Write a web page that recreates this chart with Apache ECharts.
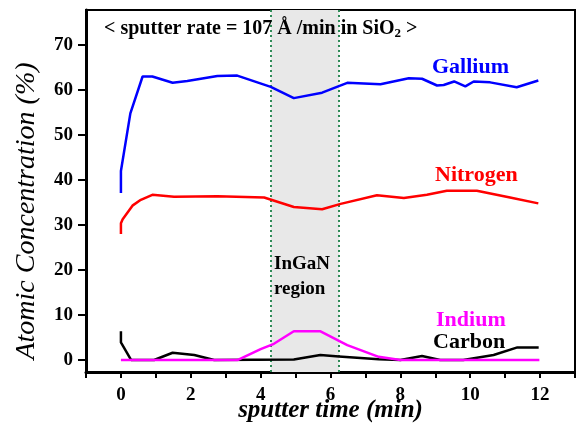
<!DOCTYPE html>
<html>
<head>
<meta charset="UTF-8">
<title>Atomic Concentration</title>
<script src="https://cdn.jsdelivr.net/npm/echarts@6/dist/echarts.min.js"></script>
<style>
  html, body { margin: 0; padding: 0; background: #fff; }
  #chart { width: 576px; height: 425px; }
</style>
</head>
<body>
<div id="chart"></div>
<script>
// depth profile
var galliumT = [0, 0, 0.27, 0.62, 0.9, 1.48, 1.9, 2.76, 3.33, 4.29, 4.95, 5.76, 6.48, 7.43, 8.24, 8.62, 9.05, 9.24, 9.54, 9.86, 10.1, 10.57, 11.33, 11.95];
var galliumV = [37.1, 42, 54.8, 63, 63, 61.6, 62, 63.1, 63.2, 60.7, 58.2, 59.4, 61.6, 61.3, 62.6, 62.5, 61.0, 61.1, 61.9, 60.8, 61.9, 61.7, 60.6, 62.1];

var nitrogenT = [0, 0, 0.05, 0.33, 0.57, 0.9, 1.52, 2.76, 4.1, 4.95, 5.76, 6.29, 7.33, 8.1, 8.76, 9.33, 10.19, 11.14, 11.95];
var nitrogenV = [28, 30.4, 31.3, 34.3, 35.6, 36.7, 36.3, 36.4, 36.1, 34.0, 33.5, 34.7, 36.6, 36.0, 36.7, 37.6, 37.6, 36.1, 34.8];

var indiumT = [0, 3.35, 4.0, 4.38, 4.95, 5.7, 6.48, 7.38, 8.0, 11.98];
var indiumV = [0, 0, 2.4, 3.6, 6.4, 6.4, 3.3, 0.7, 0, 0];

var carbonT = [0, 0, 0.29, 0.95, 1.48, 2.1, 2.67, 4.95, 5.71, 6.24, 7.38, 8.0, 8.62, 9.14, 9.8, 10.67, 11.35, 11.96];
var carbonV = [6.4, 3.9, 0, 0, 1.6, 1.1, 0, 0.1, 1.1, 0.8, 0.15, 0, 0.9, 0, 0, 1.1, 2.8, 2.8];

var xTicks = [-1, 0, 1, 2, 3, 4, 5, 6, 7, 8, 9, 10, 11, 12, 13];
var xLabels = [0, 2, 4, 6, 8, 10, 12];
var yTicks = [0, 10, 20, 30, 40, 50, 60, 70];
var regionBounds = [4.29, 6.25];

function pairs(t, v) {
  var out = [];
  for (var i = 0; i < t.length; i++) out.push([t[i], v[i]]);
  return out;
}

var serif = 'Liberation Serif';
var chart = echarts.init(document.getElementById('chart'));

function lineSeries(name, t, v, color) {
  return {
    name: name,
    type: 'line',
    data: pairs(t, v),
    symbol: 'none',
    smooth: false,
    lineStyle: { color: color, width: 2.5 },
    z: 5
  };
}

var option = {
  backgroundColor: '#fff',
  animation: false,
  grid: {
    left: 86, top: 10, right: 1, bottom: 53,
    outerBoundsMode: 'none',
    containLabel: false,
    show: true, borderColor: '#000', borderWidth: 2, backgroundColor: 'transparent'
  },
  xAxis: {
    type: 'value',
    min: -1, max: 13,
    name: 'sputter time (min)',
    nameLocation: 'middle',
    nameGap: 26,
    nameMoveOverlap: false,
    nameTextStyle: { fontFamily: serif, fontStyle: 'italic', fontWeight: 'bold', fontSize: 25, color: '#000' },
    axisLine: { show: true, onZero: false, lineStyle: { color: '#000', width: 3 } },
    axisTick: { show: true, inside: false, length: 6, customValues: xTicks, lineStyle: { color: '#000', width: 2 } },
    axisLabel: { customValues: xLabels, margin: 14, fontFamily: serif, fontWeight: 'bold', fontSize: 19, color: '#000' },
    splitLine: { show: false }
  },
  yAxis: {
    type: 'value',
    min: -2.67, max: 77.78,
    axisLine: { show: true, onZero: false, lineStyle: { color: '#000', width: 3 } },
    axisTick: { show: true, inside: false, length: 8, customValues: yTicks, lineStyle: { color: '#000', width: 2 } },
    axisLabel: { customValues: yTicks, margin: 13, fontFamily: serif, fontWeight: 'bold', fontSize: 19, color: '#000' },
    splitLine: { show: false }
  },
  series: [
    {
      type: 'line',
      data: [],
      silent: true,
      markArea: {
        silent: true,
        itemStyle: { color: '#e8e8e8' },
        data: [[{ xAxis: regionBounds[0] }, { xAxis: regionBounds[1] }]]
      },
      markLine: {
        silent: true,
        symbol: 'none',
        label: { show: false },
        lineStyle: { color: '#2e8b57', type: [2, 3], width: 2 },
        data: [{ xAxis: regionBounds[0] }, { xAxis: regionBounds[1] }]
      },
      z: 1
    },
    lineSeries('Gallium', galliumT, galliumV, '#0000ff'),
    lineSeries('Nitrogen', nitrogenT, nitrogenV, '#ff0000'),
    lineSeries('Carbon', carbonT, carbonV, '#000000'),
    lineSeries('Indium', indiumT, indiumV, '#ff00ff')
  ],
  graphic: [
    {
      type: 'text', left: 104, top: 19, z: 10,
      style: {
        text: '< sputter rate = 107 Å /min in SiO{sub|2} >',
        font: 'bold 20px "Liberation Serif"', fill: '#000',
        rich: { sub: { font: 'bold 13px "Liberation Serif"', fill: '#000', verticalAlign: 'bottom', padding: [9, 0, 0, 0] } }
      }
    },
    {
      type: 'text', left: 432, top: 56, z: 10,
      style: { text: 'Gallium', font: 'bold 22px "Liberation Serif"', fill: '#0000ff' }
    },
    {
      type: 'text', left: 435, top: 164, z: 10,
      style: { text: 'Nitrogen', font: 'bold 22px "Liberation Serif"', fill: '#ff0000' }
    },
    {
      type: 'text', left: 436, top: 309, z: 10,
      style: { text: 'Indium', font: 'bold 22px "Liberation Serif"', fill: '#ff00ff' }
    },
    {
      type: 'text', left: 433, top: 331, z: 10,
      style: { text: 'Carbon', font: 'bold 22px "Liberation Serif"', fill: '#000' }
    },
    {
      type: 'text', left: 274, top: 252, z: 10,
      style: { text: 'InGaN\nregion', font: 'bold 19px "Liberation Serif"', fill: '#000', lineHeight: 25, align: 'left' }
    },
    {
      type: 'text', x: 27, y: 211, rotation: Math.PI / 2, z: 10,
      style: {
        text: 'Atomic Concentration (%)',
        font: 'italic 28px "Liberation Serif"', fill: '#000',
        align: 'center', verticalAlign: 'middle'
      }
    }
  ]
};

chart.setOption(option);
</script>
</body>
</html>
